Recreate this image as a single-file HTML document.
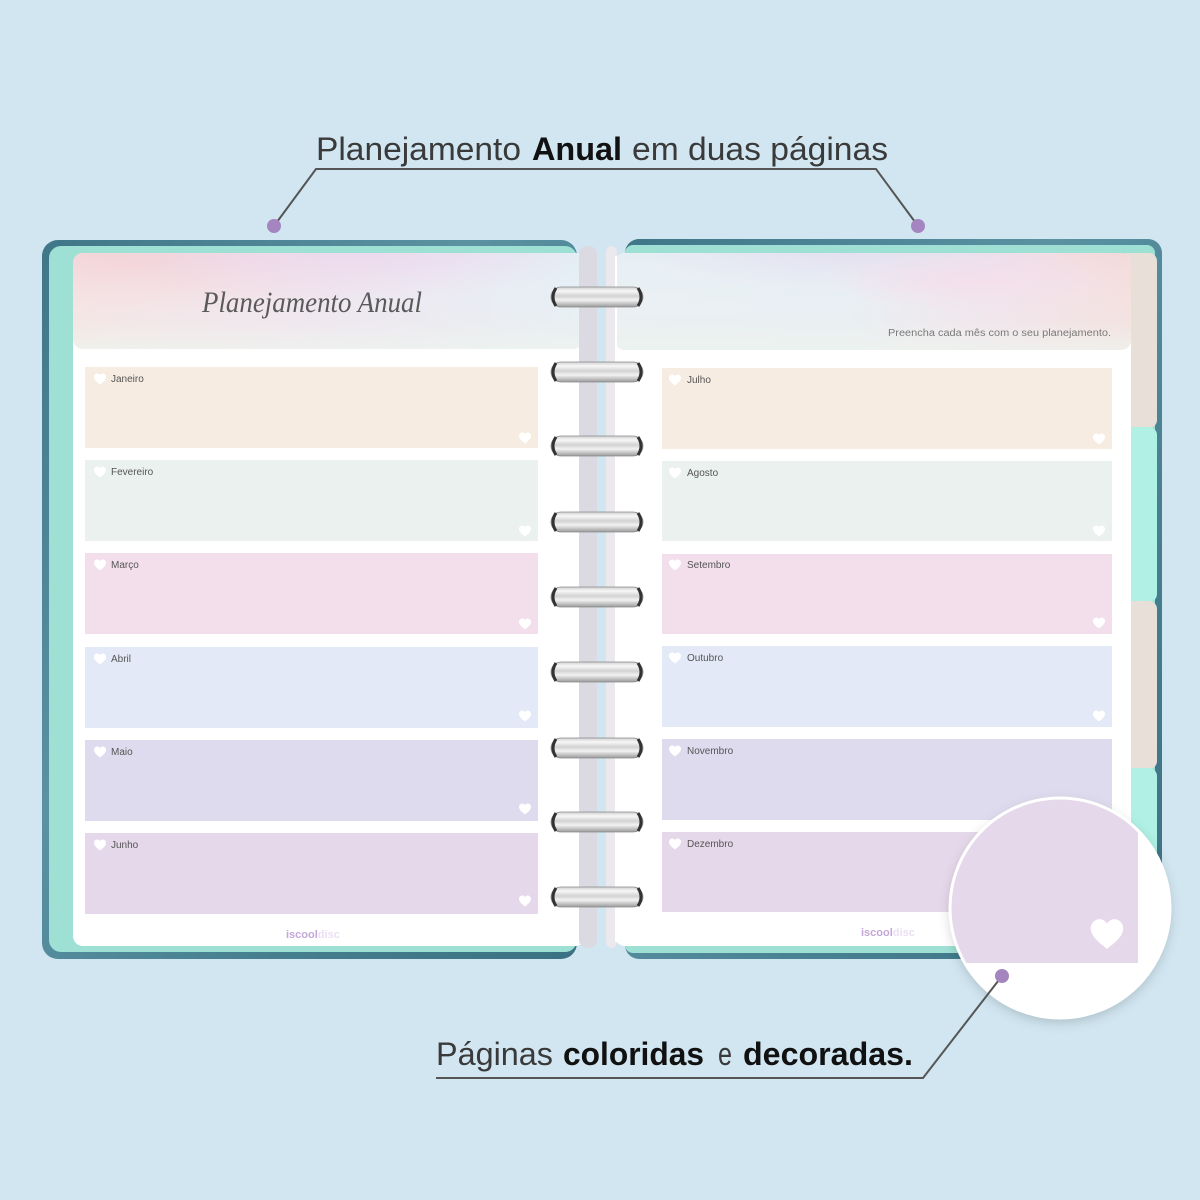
<!DOCTYPE html>
<html><head><meta charset="utf-8"><style>
html,body{margin:0;padding:0;background:#d1e6f1;}
svg{display:block;}
</style></head><body>
<svg width="1200" height="1200" viewBox="0 0 1200 1200" xmlns="http://www.w3.org/2000/svg">
<defs>
  <linearGradient id="cov" x1="0" y1="0" x2="1" y2="1">
    <stop offset="0" stop-color="#3f7789"/>
    <stop offset="0.4" stop-color="#5a92a2"/>
    <stop offset="0.7" stop-color="#467f90"/>
    <stop offset="1" stop-color="#3b7283"/>
  </linearGradient>
  <linearGradient id="ring" x1="0" y1="0" x2="0" y2="1">
    <stop offset="0" stop-color="#d0d0d0"/>
    <stop offset="0.2" stop-color="#f7f7f7"/>
    <stop offset="0.45" stop-color="#d2d2d2"/>
    <stop offset="0.65" stop-color="#f2f2f2"/>
    <stop offset="1" stop-color="#9a9a9a"/>
  </linearGradient>
  <radialGradient id="hlA" cx="0.15" cy="0.1" r="0.55">
    <stop offset="0" stop-color="#f3d3d8"/>
    <stop offset="1" stop-color="#f3d3d8" stop-opacity="0"/>
  </radialGradient>
  <radialGradient id="hlB" cx="0.55" cy="0.05" r="0.45">
    <stop offset="0" stop-color="#ecdaee"/>
    <stop offset="1" stop-color="#ecdaee" stop-opacity="0"/>
  </radialGradient>
  <linearGradient id="hlBase" x1="0" y1="0" x2="1" y2="0">
    <stop offset="0" stop-color="#f5e0e0"/>
    <stop offset="0.5" stop-color="#ece2f0"/>
    <stop offset="1" stop-color="#e2eef5"/>
  </linearGradient>
  <linearGradient id="hBot" x1="0" y1="0" x2="0" y2="1">
    <stop offset="0" stop-color="#ffffff" stop-opacity="0"/>
    <stop offset="0.7" stop-color="#f3f2ee" stop-opacity="0.35"/>
    <stop offset="1" stop-color="#eef4ee" stop-opacity="0.8"/>
  </linearGradient>
  <linearGradient id="hrBase" x1="0" y1="0" x2="1" y2="0">
    <stop offset="0" stop-color="#e6eef4"/>
    <stop offset="0.45" stop-color="#e4edf4"/>
    <stop offset="0.75" stop-color="#f0dfea"/>
    <stop offset="1" stop-color="#f3dad9"/>
  </linearGradient>
  <radialGradient id="hrA" cx="0.45" cy="0" r="0.4">
    <stop offset="0" stop-color="#e5e0f0"/>
    <stop offset="1" stop-color="#e5e0f0" stop-opacity="0"/>
  </radialGradient>
  <radialGradient id="hrB" cx="0.7" cy="0.3" r="0.3">
    <stop offset="0" stop-color="#f2dbe9"/>
    <stop offset="1" stop-color="#f2dbe9" stop-opacity="0"/>
  </radialGradient>
  <clipPath id="lh"><rect x="73" y="253" width="510" height="96" rx="10"/></clipPath>
  <clipPath id="rh"><rect x="615" y="253" width="516" height="97" rx="10"/></clipPath>
  <clipPath id="cc"><circle cx="1060" cy="908" r="109"/></clipPath>
  <filter id="sh" x="-20%" y="-20%" width="140%" height="140%">
    <feDropShadow dx="0" dy="4" stdDeviation="6" flood-color="#000" flood-opacity="0.18"/>
  </filter>
</defs>

<!-- LEFT COVER -->
<rect x="42" y="240" width="535" height="719" rx="16" fill="url(#cov)"/>
<rect x="49" y="246" width="528" height="706" rx="12" fill="#9fe0d5"/>
<!-- LEFT PAGE -->
<rect x="73" y="253" width="512" height="693" rx="10" fill="#ffffff"/>
<g clip-path="url(#lh)">
  <rect x="73" y="253" width="512" height="96" fill="url(#hlBase)"/>
  <rect x="73" y="253" width="512" height="96" fill="url(#hlA)"/>
  <rect x="73" y="253" width="512" height="96" fill="url(#hlB)"/>
  <rect x="73" y="253" width="512" height="96" fill="url(#hBot)"/>
</g>
<text x="202" y="312" font-family="Liberation Serif, serif" font-style="italic" font-size="30" fill="#5a5a5a" textLength="220" lengthAdjust="spacingAndGlyphs">Planejamento Anual</text>

<!-- RIGHT COVER -->
<rect x="625" y="239" width="537" height="720" rx="14" fill="url(#cov)"/>
<rect x="625" y="245" width="530" height="708" rx="8" fill="#9fe0d5"/>
<!-- tabs -->
<rect x="1120" y="253" width="37" height="175" rx="8" fill="#e8e0d8"/>
<rect x="1120" y="427" width="37" height="175" rx="8" fill="#b0f0e5"/>
<rect x="1120" y="601" width="37" height="168" rx="8" fill="#e8e0d8"/>
<rect x="1120" y="768" width="37" height="180" rx="8" fill="#b0f0e5"/>
<!-- RIGHT PAGE -->
<rect x="615" y="253" width="516" height="693" rx="10" fill="#ffffff"/>
<g clip-path="url(#rh)">
  <rect x="615" y="253" width="516" height="97" fill="url(#hrBase)"/>
  <rect x="615" y="253" width="516" height="97" fill="url(#hrA)"/>
  <rect x="615" y="253" width="516" height="97" fill="url(#hrB)"/>
  <rect x="615" y="253" width="516" height="97" fill="url(#hBot)"/>
</g>
<text x="888" y="336" font-family="Liberation Sans, sans-serif" font-size="10" fill="#7a7a7a" textLength="223" lengthAdjust="spacingAndGlyphs">Preencha cada mês com o seu planejamento.</text>

<!-- SPINE STRIPES -->
<rect x="579" y="246" width="18" height="702" rx="8" fill="#dbdae2"/>
<rect x="597" y="250" width="10" height="696" fill="#d1e6f1"/>
<rect x="606" y="246" width="11" height="702" rx="6" fill="#ebe8ee"/>
<rect x="615" y="256" width="2" height="686" fill="#ffffff"/>

<!-- LEFT BOXES -->
<g font-family="Liberation Sans, sans-serif" font-size="10" fill="#555">
<rect x="85" y="367" width="453" height="81" fill="#f6ece1"/>
<rect x="85" y="460" width="453" height="81" fill="#eaf1ef"/>
<rect x="85" y="553" width="453" height="81" fill="#f2dfeb"/>
<rect x="85" y="647" width="453" height="81" fill="#e3e9f6"/>
<rect x="85" y="740" width="453" height="81" fill="#dedbee"/>
<rect x="85" y="833" width="453" height="81" fill="#e5d8ea"/>
<text x="111" y="382">Janeiro</text>
<text x="111" y="475">Fevereiro</text>
<text x="111" y="568">Março</text>
<text x="111" y="662">Abril</text>
<text x="111" y="755">Maio</text>
<text x="111" y="848">Junho</text>
<!-- RIGHT BOXES -->
<rect x="662" y="368" width="450" height="81" fill="#f6ece1"/>
<rect x="662" y="461" width="450" height="80" fill="#eaf1ef"/>
<rect x="662" y="554" width="450" height="80" fill="#f2dfeb"/>
<rect x="662" y="646" width="450" height="81" fill="#e3e9f6"/>
<rect x="662" y="739" width="450" height="81" fill="#dedbee"/>
<rect x="662" y="832" width="450" height="80" fill="#e5d8ea"/>
<text x="687" y="383">Julho</text>
<text x="687" y="476">Agosto</text>
<text x="687" y="568">Setembro</text>
<text x="687" y="661">Outubro</text>
<text x="687" y="754">Novembro</text>
<text x="687" y="847">Dezembro</text>
</g>

<!-- HEARTS -->
<g fill="#ffffff">
<path transform="translate(100,379)" d="M0 5.5 C-1 4.5 -6 1.5 -6 -2 C-6 -4.5 -4 -5.5 -2.8 -5.5 C-1.5 -5.5 -0.5 -4.7 0 -3.8 C0.5 -4.7 1.5 -5.5 2.8 -5.5 C4 -5.5 6 -4.5 6 -2 C6 1.5 1 4.5 0 5.5Z"/>
<path transform="translate(100,472)" d="M0 5.5 C-1 4.5 -6 1.5 -6 -2 C-6 -4.5 -4 -5.5 -2.8 -5.5 C-1.5 -5.5 -0.5 -4.7 0 -3.8 C0.5 -4.7 1.5 -5.5 2.8 -5.5 C4 -5.5 6 -4.5 6 -2 C6 1.5 1 4.5 0 5.5Z"/>
<path transform="translate(100,565)" d="M0 5.5 C-1 4.5 -6 1.5 -6 -2 C-6 -4.5 -4 -5.5 -2.8 -5.5 C-1.5 -5.5 -0.5 -4.7 0 -3.8 C0.5 -4.7 1.5 -5.5 2.8 -5.5 C4 -5.5 6 -4.5 6 -2 C6 1.5 1 4.5 0 5.5Z"/>
<path transform="translate(100,659)" d="M0 5.5 C-1 4.5 -6 1.5 -6 -2 C-6 -4.5 -4 -5.5 -2.8 -5.5 C-1.5 -5.5 -0.5 -4.7 0 -3.8 C0.5 -4.7 1.5 -5.5 2.8 -5.5 C4 -5.5 6 -4.5 6 -2 C6 1.5 1 4.5 0 5.5Z"/>
<path transform="translate(100,752)" d="M0 5.5 C-1 4.5 -6 1.5 -6 -2 C-6 -4.5 -4 -5.5 -2.8 -5.5 C-1.5 -5.5 -0.5 -4.7 0 -3.8 C0.5 -4.7 1.5 -5.5 2.8 -5.5 C4 -5.5 6 -4.5 6 -2 C6 1.5 1 4.5 0 5.5Z"/>
<path transform="translate(100,845)" d="M0 5.5 C-1 4.5 -6 1.5 -6 -2 C-6 -4.5 -4 -5.5 -2.8 -5.5 C-1.5 -5.5 -0.5 -4.7 0 -3.8 C0.5 -4.7 1.5 -5.5 2.8 -5.5 C4 -5.5 6 -4.5 6 -2 C6 1.5 1 4.5 0 5.5Z"/>
<path transform="translate(525,438)" d="M0 5.5 C-1 4.5 -6 1.5 -6 -2 C-6 -4.5 -4 -5.5 -2.8 -5.5 C-1.5 -5.5 -0.5 -4.7 0 -3.8 C0.5 -4.7 1.5 -5.5 2.8 -5.5 C4 -5.5 6 -4.5 6 -2 C6 1.5 1 4.5 0 5.5Z"/>
<path transform="translate(525,531)" d="M0 5.5 C-1 4.5 -6 1.5 -6 -2 C-6 -4.5 -4 -5.5 -2.8 -5.5 C-1.5 -5.5 -0.5 -4.7 0 -3.8 C0.5 -4.7 1.5 -5.5 2.8 -5.5 C4 -5.5 6 -4.5 6 -2 C6 1.5 1 4.5 0 5.5Z"/>
<path transform="translate(525,624)" d="M0 5.5 C-1 4.5 -6 1.5 -6 -2 C-6 -4.5 -4 -5.5 -2.8 -5.5 C-1.5 -5.5 -0.5 -4.7 0 -3.8 C0.5 -4.7 1.5 -5.5 2.8 -5.5 C4 -5.5 6 -4.5 6 -2 C6 1.5 1 4.5 0 5.5Z"/>
<path transform="translate(525,716)" d="M0 5.5 C-1 4.5 -6 1.5 -6 -2 C-6 -4.5 -4 -5.5 -2.8 -5.5 C-1.5 -5.5 -0.5 -4.7 0 -3.8 C0.5 -4.7 1.5 -5.5 2.8 -5.5 C4 -5.5 6 -4.5 6 -2 C6 1.5 1 4.5 0 5.5Z"/>
<path transform="translate(525,809)" d="M0 5.5 C-1 4.5 -6 1.5 -6 -2 C-6 -4.5 -4 -5.5 -2.8 -5.5 C-1.5 -5.5 -0.5 -4.7 0 -3.8 C0.5 -4.7 1.5 -5.5 2.8 -5.5 C4 -5.5 6 -4.5 6 -2 C6 1.5 1 4.5 0 5.5Z"/>
<path transform="translate(525,901)" d="M0 5.5 C-1 4.5 -6 1.5 -6 -2 C-6 -4.5 -4 -5.5 -2.8 -5.5 C-1.5 -5.5 -0.5 -4.7 0 -3.8 C0.5 -4.7 1.5 -5.5 2.8 -5.5 C4 -5.5 6 -4.5 6 -2 C6 1.5 1 4.5 0 5.5Z"/>
<path transform="translate(675,380)" d="M0 5.5 C-1 4.5 -6 1.5 -6 -2 C-6 -4.5 -4 -5.5 -2.8 -5.5 C-1.5 -5.5 -0.5 -4.7 0 -3.8 C0.5 -4.7 1.5 -5.5 2.8 -5.5 C4 -5.5 6 -4.5 6 -2 C6 1.5 1 4.5 0 5.5Z"/>
<path transform="translate(675,473)" d="M0 5.5 C-1 4.5 -6 1.5 -6 -2 C-6 -4.5 -4 -5.5 -2.8 -5.5 C-1.5 -5.5 -0.5 -4.7 0 -3.8 C0.5 -4.7 1.5 -5.5 2.8 -5.5 C4 -5.5 6 -4.5 6 -2 C6 1.5 1 4.5 0 5.5Z"/>
<path transform="translate(675,565)" d="M0 5.5 C-1 4.5 -6 1.5 -6 -2 C-6 -4.5 -4 -5.5 -2.8 -5.5 C-1.5 -5.5 -0.5 -4.7 0 -3.8 C0.5 -4.7 1.5 -5.5 2.8 -5.5 C4 -5.5 6 -4.5 6 -2 C6 1.5 1 4.5 0 5.5Z"/>
<path transform="translate(675,658)" d="M0 5.5 C-1 4.5 -6 1.5 -6 -2 C-6 -4.5 -4 -5.5 -2.8 -5.5 C-1.5 -5.5 -0.5 -4.7 0 -3.8 C0.5 -4.7 1.5 -5.5 2.8 -5.5 C4 -5.5 6 -4.5 6 -2 C6 1.5 1 4.5 0 5.5Z"/>
<path transform="translate(675,751)" d="M0 5.5 C-1 4.5 -6 1.5 -6 -2 C-6 -4.5 -4 -5.5 -2.8 -5.5 C-1.5 -5.5 -0.5 -4.7 0 -3.8 C0.5 -4.7 1.5 -5.5 2.8 -5.5 C4 -5.5 6 -4.5 6 -2 C6 1.5 1 4.5 0 5.5Z"/>
<path transform="translate(675,844)" d="M0 5.5 C-1 4.5 -6 1.5 -6 -2 C-6 -4.5 -4 -5.5 -2.8 -5.5 C-1.5 -5.5 -0.5 -4.7 0 -3.8 C0.5 -4.7 1.5 -5.5 2.8 -5.5 C4 -5.5 6 -4.5 6 -2 C6 1.5 1 4.5 0 5.5Z"/>
<path transform="translate(1099,439)" d="M0 5.5 C-1 4.5 -6 1.5 -6 -2 C-6 -4.5 -4 -5.5 -2.8 -5.5 C-1.5 -5.5 -0.5 -4.7 0 -3.8 C0.5 -4.7 1.5 -5.5 2.8 -5.5 C4 -5.5 6 -4.5 6 -2 C6 1.5 1 4.5 0 5.5Z"/>
<path transform="translate(1099,531)" d="M0 5.5 C-1 4.5 -6 1.5 -6 -2 C-6 -4.5 -4 -5.5 -2.8 -5.5 C-1.5 -5.5 -0.5 -4.7 0 -3.8 C0.5 -4.7 1.5 -5.5 2.8 -5.5 C4 -5.5 6 -4.5 6 -2 C6 1.5 1 4.5 0 5.5Z"/>
<path transform="translate(1099,623)" d="M0 5.5 C-1 4.5 -6 1.5 -6 -2 C-6 -4.5 -4 -5.5 -2.8 -5.5 C-1.5 -5.5 -0.5 -4.7 0 -3.8 C0.5 -4.7 1.5 -5.5 2.8 -5.5 C4 -5.5 6 -4.5 6 -2 C6 1.5 1 4.5 0 5.5Z"/>
<path transform="translate(1099,716)" d="M0 5.5 C-1 4.5 -6 1.5 -6 -2 C-6 -4.5 -4 -5.5 -2.8 -5.5 C-1.5 -5.5 -0.5 -4.7 0 -3.8 C0.5 -4.7 1.5 -5.5 2.8 -5.5 C4 -5.5 6 -4.5 6 -2 C6 1.5 1 4.5 0 5.5Z"/>
</g>

<!-- FOOTER LOGOS -->
<g font-family="Liberation Sans, sans-serif" font-size="11" font-weight="bold">
<text x="286" y="938" fill="#c3a7d8">iscool<tspan fill="#ecdff3">disc</tspan></text>
<text x="861" y="936" fill="#c3a7d8">iscool<tspan fill="#ecdff3">disc</tspan></text>
</g>

<!-- RINGS -->
<g>
<g transform="translate(0,297)"><rect x="551" y="-10" width="92" height="20" rx="10" fill="url(#ring)" stroke="#8a8a8a" stroke-width="0.8"/><path d="M556 -9 Q550 0 556 9" stroke="#333" stroke-width="3" fill="none"/><path d="M638 -9 Q644 0 638 9" stroke="#333" stroke-width="3" fill="none"/></g>
<g transform="translate(0,372)"><rect x="551" y="-10" width="92" height="20" rx="10" fill="url(#ring)" stroke="#8a8a8a" stroke-width="0.8"/><path d="M556 -9 Q550 0 556 9" stroke="#333" stroke-width="3" fill="none"/><path d="M638 -9 Q644 0 638 9" stroke="#333" stroke-width="3" fill="none"/></g>
<g transform="translate(0,446)"><rect x="551" y="-10" width="92" height="20" rx="10" fill="url(#ring)" stroke="#8a8a8a" stroke-width="0.8"/><path d="M556 -9 Q550 0 556 9" stroke="#333" stroke-width="3" fill="none"/><path d="M638 -9 Q644 0 638 9" stroke="#333" stroke-width="3" fill="none"/></g>
<g transform="translate(0,522)"><rect x="551" y="-10" width="92" height="20" rx="10" fill="url(#ring)" stroke="#8a8a8a" stroke-width="0.8"/><path d="M556 -9 Q550 0 556 9" stroke="#333" stroke-width="3" fill="none"/><path d="M638 -9 Q644 0 638 9" stroke="#333" stroke-width="3" fill="none"/></g>
<g transform="translate(0,597)"><rect x="551" y="-10" width="92" height="20" rx="10" fill="url(#ring)" stroke="#8a8a8a" stroke-width="0.8"/><path d="M556 -9 Q550 0 556 9" stroke="#333" stroke-width="3" fill="none"/><path d="M638 -9 Q644 0 638 9" stroke="#333" stroke-width="3" fill="none"/></g>
<g transform="translate(0,672)"><rect x="551" y="-10" width="92" height="20" rx="10" fill="url(#ring)" stroke="#8a8a8a" stroke-width="0.8"/><path d="M556 -9 Q550 0 556 9" stroke="#333" stroke-width="3" fill="none"/><path d="M638 -9 Q644 0 638 9" stroke="#333" stroke-width="3" fill="none"/></g>
<g transform="translate(0,748)"><rect x="551" y="-10" width="92" height="20" rx="10" fill="url(#ring)" stroke="#8a8a8a" stroke-width="0.8"/><path d="M556 -9 Q550 0 556 9" stroke="#333" stroke-width="3" fill="none"/><path d="M638 -9 Q644 0 638 9" stroke="#333" stroke-width="3" fill="none"/></g>
<g transform="translate(0,822)"><rect x="551" y="-10" width="92" height="20" rx="10" fill="url(#ring)" stroke="#8a8a8a" stroke-width="0.8"/><path d="M556 -9 Q550 0 556 9" stroke="#333" stroke-width="3" fill="none"/><path d="M638 -9 Q644 0 638 9" stroke="#333" stroke-width="3" fill="none"/></g>
<g transform="translate(0,897)"><rect x="551" y="-10" width="92" height="20" rx="10" fill="url(#ring)" stroke="#8a8a8a" stroke-width="0.8"/><path d="M556 -9 Q550 0 556 9" stroke="#333" stroke-width="3" fill="none"/><path d="M638 -9 Q644 0 638 9" stroke="#333" stroke-width="3" fill="none"/></g>
</g>

<!-- MAGNIFIER CIRCLE -->
<circle cx="1060" cy="908" r="110" fill="#ffffff" filter="url(#sh)"/>
<g clip-path="url(#cc)">
  <rect x="940" y="790" width="198" height="173" fill="#e5d8ea"/>
  <path transform="translate(1107,934) scale(2.7)" fill="#ffffff" d="M0 5.5 C-1 4.5 -6 1.5 -6 -2 C-6 -4.5 -4 -5.5 -2.8 -5.5 C-1.5 -5.5 -0.5 -4.7 0 -3.8 C0.5 -4.7 1.5 -5.5 2.8 -5.5 C4 -5.5 6 -4.5 6 -2 C6 1.5 1 4.5 0 5.5Z"/>
</g>
<circle cx="1060" cy="908" r="110" fill="none" stroke="#ffffff" stroke-width="3"/>

<!-- CALLOUT LINES -->
<g stroke="#555" stroke-width="2" fill="none">
<polyline points="274,226 316,169 876,169 918,226"/>
<polyline points="1002,976 923,1078 436,1078"/>
</g>
<g fill="#a585c0">
<circle cx="274" cy="226" r="7"/>
<circle cx="918" cy="226" r="7"/>
<circle cx="1002" cy="976" r="7"/>
</g>

<!-- CAPTIONS -->
<g font-family="Liberation Sans, sans-serif" font-size="32">
<text x="316" y="160" textLength="205" lengthAdjust="spacingAndGlyphs" fill="#3a3a3a">Planejamento</text>
<text x="532" y="160" textLength="90" lengthAdjust="spacingAndGlyphs" font-weight="bold" fill="#111">Anual</text>
<text x="632" y="160" textLength="256" lengthAdjust="spacingAndGlyphs" fill="#3a3a3a">em duas páginas</text>
<text x="436" y="1065" textLength="117" lengthAdjust="spacingAndGlyphs" fill="#3a3a3a">Páginas</text>
<text x="563" y="1065" textLength="141" lengthAdjust="spacingAndGlyphs" font-weight="bold" fill="#111">coloridas</text>
<text x="718" y="1065" textLength="14" lengthAdjust="spacingAndGlyphs" fill="#3a3a3a">e</text>
<text x="743" y="1065" textLength="170" lengthAdjust="spacingAndGlyphs" font-weight="bold" fill="#111">decoradas.</text>
</g>
</svg>
</body></html>
